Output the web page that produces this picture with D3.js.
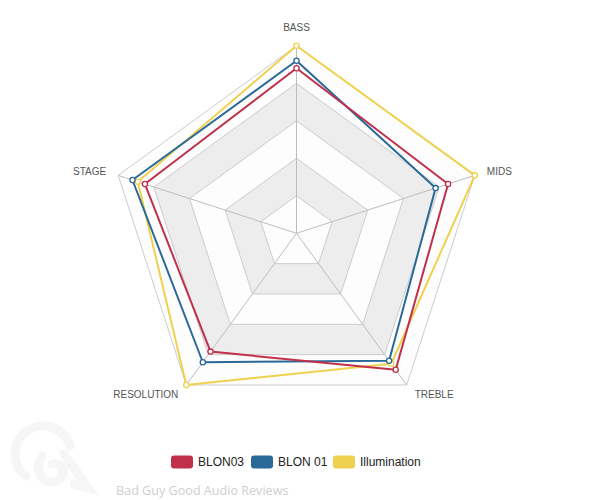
<!DOCTYPE html>
<html>
<head>
<meta charset="utf-8">
<script src="https://cdn.jsdelivr.net/npm/d3@7"></script>
<style>
  body { margin: 0; background: #fff; }
  #chart { width: 590px; height: 500px; }
  .axis-label { font-family: "Liberation Sans", Arial, sans-serif; font-size: 10px; fill: #555; }
  .legend-text { font-family: "Liberation Sans", Arial, sans-serif; font-size: 12px; fill: #222; }
  .watermark { font-family: "Open Sans", sans-serif; font-size: 12.6px; fill: #cfcfcf; }
</style>
</head>
<body>
<div id="chart"></div>
<script>
// datos del grafico
const axes = ["BASS", "MIDS", "TREBLE", "RESOLUTION", "STAGE"];
const seriesNames = ["BLON03", "BLON 01", "Illumination"];
const blon03 = [8.8, 8.5, 9.0, 7.8, 8.5];
const blon01 = [9.2, 7.8, 8.4, 8.5, 9.2];
const illumination = [10, 10, 8.6, 10, 8.9];
const colors = ["#c0304b", "#2b6a98", "#f0d04f"];
const ringValues = [2, 4, 6, 8, 10];

const width = 590, height = 500;
const cx = 296.5, cy = 233.3, radius = 187.5;

const svg = d3.select("#chart").append("svg")
  .attr("width", width)
  .attr("height", height);

const r = d3.scaleLinear().domain([0, 10]).range([0, radius]);
const angle = d3.scalePoint().domain(axes).range([0, 2 * Math.PI * (axes.length - 1) / axes.length]);

const point = (ax, v) => {
  const a = angle(ax) - Math.PI / 2;
  return [cx + r(v) * Math.cos(a), cy + r(v) * Math.sin(a)];
};

// marca de agua (logo)
const wm = svg.append("g").attr("transform", "translate(48, 462)")
  .attr("fill", "none").attr("stroke", "#f6f6f6").attr("stroke-width", 9)
  .attr("stroke-linecap", "round");
wm.append("path").attr("d", "M-22,14 A28,28 0 1,1 22,-16");
wm.append("path").attr("d", "M-6,-6 C-16,8 -4,26 10,18 C20,12 16,0 4,2");
wm.append("path").attr("d", "M16,-8 L40,26 L26,22");

// bandas del fondo (de afuera hacia adentro)
const grid = svg.append("g");
const ringPath = (v) => d3.line()(axes.map(ax => point(ax, v))) + "Z";
ringValues.slice().reverse().forEach(v => {
  const idx = ringValues.indexOf(v);
  grid.append("path")
    .attr("d", ringPath(v))
    .attr("fill", idx % 2 === 1 ? "#ededed" : "#fdfdfd")
    .attr("stroke", "#cccccc")
    .attr("stroke-width", 1);
});

// ejes radiales
axes.forEach(ax => {
  const [x, y] = point(ax, 10);
  grid.append("line")
    .attr("x1", cx).attr("y1", cy)
    .attr("x2", x).attr("y2", y)
    .attr("stroke", "#bdbdbd")
    .attr("stroke-width", 1);
});

// etiquetas de los ejes
const labelPos = {
  BASS: { dx: 0, dy: -18, anchor: "middle" },
  MIDS: { dx: 12, dy: -4, anchor: "start" },
  TREBLE: { dx: 8, dy: 10, anchor: "start" },
  RESOLUTION: { dx: -8, dy: 10, anchor: "end" },
  STAGE: { dx: -12, dy: -4, anchor: "end" }
};
axes.forEach(ax => {
  const [x, y] = point(ax, 10);
  const p = labelPos[ax];
  svg.append("text")
    .attr("class", "axis-label")
    .attr("x", x + p.dx)
    .attr("y", y + p.dy)
    .attr("dy", "0.35em")
    .attr("text-anchor", p.anchor)
    .text(ax);
});

// series
const series = [blon03, blon01, illumination];
const order = [2, 1, 0];
order.forEach(si => {
  const vals = series[si];
  const pts = axes.map((ax, i) => point(ax, vals[i]));
  svg.append("path")
    .attr("d", d3.line()(pts) + "Z")
    .attr("fill", "none")
    .attr("stroke", colors[si])
    .attr("stroke-width", 2)
    .attr("stroke-linejoin", "round");
});
order.forEach(si => {
  const vals = series[si];
  svg.append("g").selectAll("circle")
    .data(axes.map((ax, i) => point(ax, vals[i])))
    .join("circle")
    .attr("cx", d => d[0])
    .attr("cy", d => d[1])
    .attr("r", 2.6)
    .attr("fill", "#fff")
    .attr("stroke", colors[si])
    .attr("stroke-width", 1.3);
});

// leyenda
const legendX = [171, 251, 333];
const legend = svg.append("g");
seriesNames.forEach((name, i) => {
  legend.append("rect")
    .attr("x", legendX[i]).attr("y", 455.5)
    .attr("width", 22).attr("height", 13)
    .attr("rx", 3)
    .attr("fill", colors[i]);
  legend.append("text")
    .attr("class", "legend-text")
    .attr("x", legendX[i] + 27)
    .attr("y", 466)
    .text(name);
});

// marca de agua (texto)
svg.append("text")
  .attr("class", "watermark")
  .attr("x", 116)
  .attr("y", 495)
  .text("Bad Guy Good Audio Reviews");
</script>
</body>
</html>
